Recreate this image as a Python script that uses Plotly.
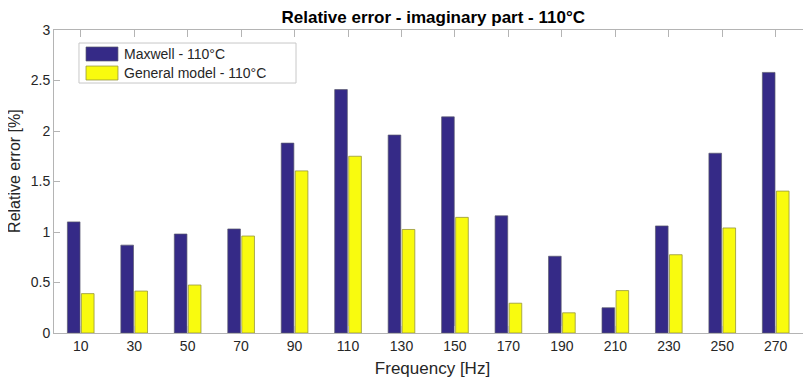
import plotly.graph_objects as go

freqs = [10, 30, 50, 70, 90, 110, 130, 150, 170, 190, 210, 230, 250, 270]
maxwell = [1.10, 0.87, 0.98, 1.03, 1.88, 2.41, 1.96, 2.14, 1.16, 0.76, 0.25, 1.06, 1.78, 2.58]
general = [0.39, 0.415, 0.475, 0.96, 1.605, 1.75, 1.025, 1.145, 0.295, 0.20, 0.42, 0.775, 1.04, 1.405]
series_names = ["Maxwell - 110°C", "General model - 110°C"]
yticks = [0, 0.5, 1, 1.5, 2, 2.5, 3]
ytick_labels = ["0", "0.5", "1", "1.5", "2", "2.5", "3"]

FONT = "Liberation Sans, Arial, sans-serif"
AX = "#b4b4b4"
TXT = "#262626"
C_MAX = "#352A87"
C_GEN = "#F9FB0E"
E_MAX = "rgba(90,90,110,0.7)"
E_GEN = "rgba(150,150,60,0.8)"

fig = go.Figure()
fig.add_trace(go.Bar(x=freqs, y=maxwell, name=series_names[0], showlegend=False,
                     marker=dict(color=C_MAX, line=dict(color=E_MAX, width=1))))
fig.add_trace(go.Bar(x=freqs, y=general, name=series_names[1], showlegend=False,
                     marker=dict(color=C_GEN, line=dict(color=E_GEN, width=1))))
# invisible trace for right-side inner ticks
fig.add_trace(go.Scatter(x=[freqs[0]], y=[0], yaxis="y2", mode="markers",
                         marker=dict(opacity=0), showlegend=False, hoverinfo="skip"))

# custom legend (box, swatches, labels)
shapes = [
    dict(type="rect", xref="paper", yref="paper", x0=0.033, x1=0.3197, y0=0.825, y1=0.957,
         fillcolor="white", line=dict(color="#c8c8c8", width=1), layer="above"),
    dict(type="rect", xref="paper", yref="paper", x0=0.0423, x1=0.0845, y0=0.8977, y1=0.9439,
         fillcolor=C_MAX, line=dict(color=E_MAX, width=1), layer="above"),
    dict(type="rect", xref="paper", yref="paper", x0=0.0423, x1=0.0845, y0=0.835, y1=0.881,
         fillcolor=C_GEN, line=dict(color=E_GEN, width=1), layer="above"),
]
annotations = [
    dict(text=series_names[0], xref="paper", yref="paper", x=0.0898, y=0.9195,
         xanchor="left", yanchor="middle", showarrow=False, font=dict(size=14, color=TXT)),
    dict(text=series_names[1], xref="paper", yref="paper", x=0.0898, y=0.859,
         xanchor="left", yanchor="middle", showarrow=False, font=dict(size=14, color=TXT)),
    dict(text="Relative error [%]", xref="paper", yref="paper", x=-0.0515, y=0.535,
         xanchor="center", yanchor="middle", textangle=-90, showarrow=False,
         font=dict(size=16, color=TXT)),
]

fig.update_layout(
    width=803, height=370,
    margin=dict(l=46, r=0, t=22, b=45),
    paper_bgcolor="white", plot_bgcolor="white",
    barmode="group", bargap=0.475, bargroupgap=0.1,
    font=dict(family=FONT, color=TXT, size=14),
    showlegend=False,
    shapes=shapes, annotations=annotations,
    title=dict(text="<b>Relative error - imaginary part - 110°C</b>",
               x=0.501, xref="paper", xanchor="center", y=0.975, yanchor="middle",
               font=dict(size=17, color="#000000")),
    xaxis=dict(range=[0, 283.2], tickmode="array", tickvals=freqs,
               ticktext=[str(f) for f in freqs], ticks="inside", ticklen=7,
               tickcolor=AX, showline=True, linecolor=AX, linewidth=1, mirror="ticks",
               showgrid=False, zeroline=False,
               title=dict(text="Frequency [Hz]", font=dict(size=17), standoff=10),
               tickfont=dict(size=14)),
    yaxis=dict(range=[0, 3], tickmode="array", tickvals=yticks, ticktext=ytick_labels,
               ticks="inside", ticklen=6, tickcolor=AX, showline=True, linecolor=AX,
               linewidth=1, showgrid=False, zeroline=False,
               tickfont=dict(size=14)),
    yaxis2=dict(range=[0, 3], overlaying="y", side="right", tickmode="array",
                tickvals=yticks, ticks="inside", ticklen=5, tickcolor=AX,
                showticklabels=False, showline=False, showgrid=False, zeroline=False),
)

fig.write_html("out.html")
